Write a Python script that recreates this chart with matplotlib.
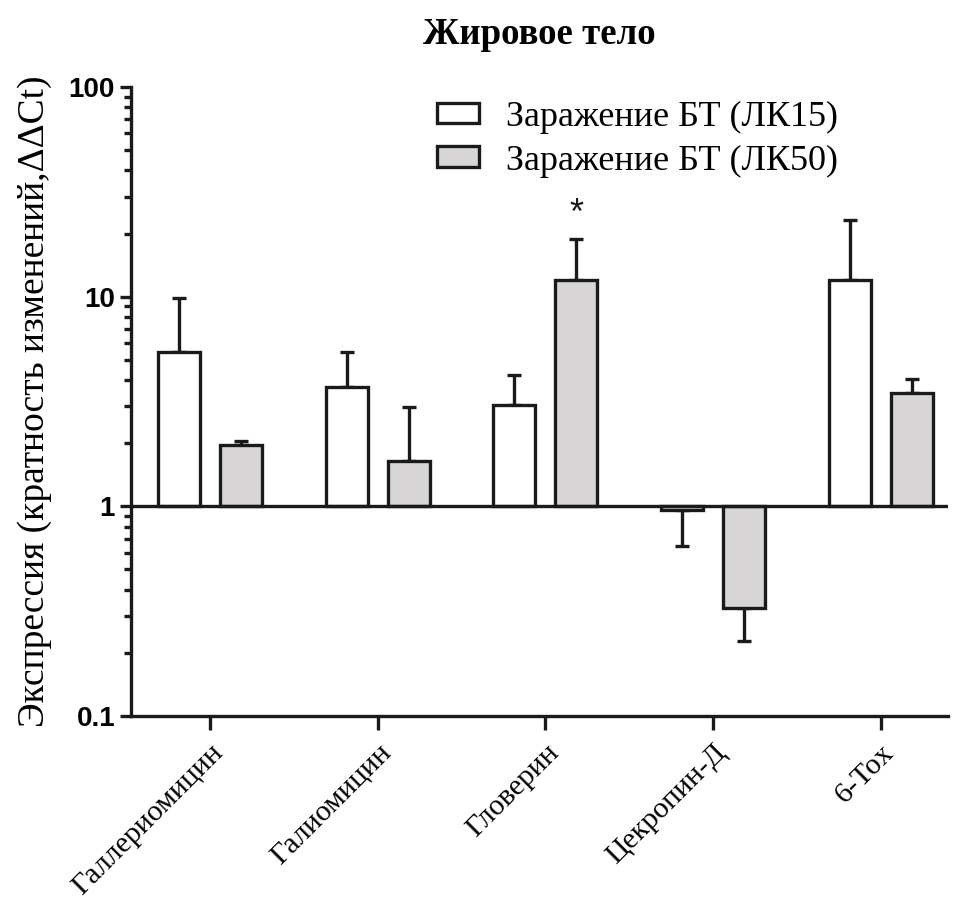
import numpy as np
import matplotlib
matplotlib.use('Agg')
import matplotlib.pyplot as plt
from matplotlib.patches import Patch
from matplotlib.ticker import LogLocator, FixedFormatter, FixedLocator, NullFormatter

# Gene names and mean fold change with upper/lower SEM end points
genes = ['Галлериомицин', 'Галиомицин', 'Гловерин', 'Цекропин-Д', '6-Tox']
lk15 = [5.47, 3.69, 3.03, 0.96, 12.05]
lk15_err = [9.9, 5.45, 4.25, 0.65, 23.3]
lk50 = [1.97, 1.64, 12.05, 0.327, 3.49]
lk50_err = [2.06, 2.99, 18.9, 0.228, 4.07]
series_names = ['Заражение БТ (ЛК15)', 'Заражение БТ (ЛК50)']

serif = 'Liberation Serif'
sans = 'Liberation Sans'

fig = plt.figure(figsize=(9.55, 9.06), dpi=100)
ax = fig.add_axes([0.1372, 0.2097, 0.8555, 0.6943])

x = np.arange(len(genes))
width = 0.25
offset = 0.185
lw = 2.4


def draw_series(xpos, vals, errs, color):
    vals = np.array(vals)
    errs = np.array(errs)
    ax.bar(xpos, vals - 1, bottom=1, width=width, color=color,
           edgecolor='#1a1a1a', linewidth=lw, zorder=3)
    # error bars point away from the baseline at 1
    up = np.where(vals >= 1, errs - vals, 0)
    down = np.where(vals < 1, vals - errs, 0)
    ax.errorbar(xpos, vals, yerr=[down, up], fmt='none', ecolor='#1a1a1a',
                elinewidth=lw, capsize=5, capthick=lw, zorder=2)


draw_series(x - offset, lk15, lk15_err, 'white')
draw_series(x + offset, lk50, lk50_err, '#d8d5d7')

ax.axhline(1, color='#1a1a1a', linewidth=lw, zorder=4)

# significance mark over Гловерин, ЛК50
ax.text(x[2] + offset, lk50_err[2] * 1.08, '*', ha='center', va='bottom',
        fontsize=26, family=sans, color='#1a1a1a')

ax.set_yscale('log')
ax.set_ylim(0.1, 100)
ax.set_xlim(-0.47, 4.40)
ax.yaxis.set_major_locator(FixedLocator([0.1, 1, 10, 100]))
ax.yaxis.set_major_formatter(FixedFormatter(['0.1', '1', '10', '100']))
ax.yaxis.set_minor_locator(LogLocator(base=10, subs=np.arange(2, 10)))
ax.yaxis.set_minor_formatter(NullFormatter())

for s in ['top', 'right']:
    ax.spines[s].set_visible(False)
for s in ['left', 'bottom']:
    ax.spines[s].set_linewidth(lw)
    ax.spines[s].set_color('#1a1a1a')

ax.tick_params(axis='y', which='major', length=8, width=lw, color='#1a1a1a')
ax.tick_params(axis='y', which='minor', length=5, width=lw, color='#1a1a1a')
ax.tick_params(axis='x', length=10, width=lw, color='#1a1a1a', pad=7)
for lab in ax.get_yticklabels():
    lab.set_family(sans)
    lab.set_fontweight('bold')
    lab.set_fontsize(20)

ax.set_xticks(x)
ax.set_xticklabels(genes, rotation=45, ha='right', rotation_mode='anchor',
                   family=serif, fontsize=21.5)

ax.set_ylabel('Экспрессия (кратность изменений,ΔΔCt)', family=serif,
              fontsize=27, labelpad=12)
ax.set_title('Жировое тело', family=serif, fontweight='bold', fontsize=26.5,
             pad=31)

handles = [Patch(facecolor='white', edgecolor='#1a1a1a', linewidth=lw),
           Patch(facecolor='#d8d5d7', edgecolor='#1a1a1a', linewidth=lw)]
ax.legend(handles, series_names, loc='upper left',
          bbox_to_anchor=(0.335, 1.03), frameon=False,
          prop={'family': serif, 'size': 26}, handlelength=1.15,
          handleheight=0.5, handletextpad=0.75, labelspacing=0.3)

fig.savefig('out.png', dpi=100)
